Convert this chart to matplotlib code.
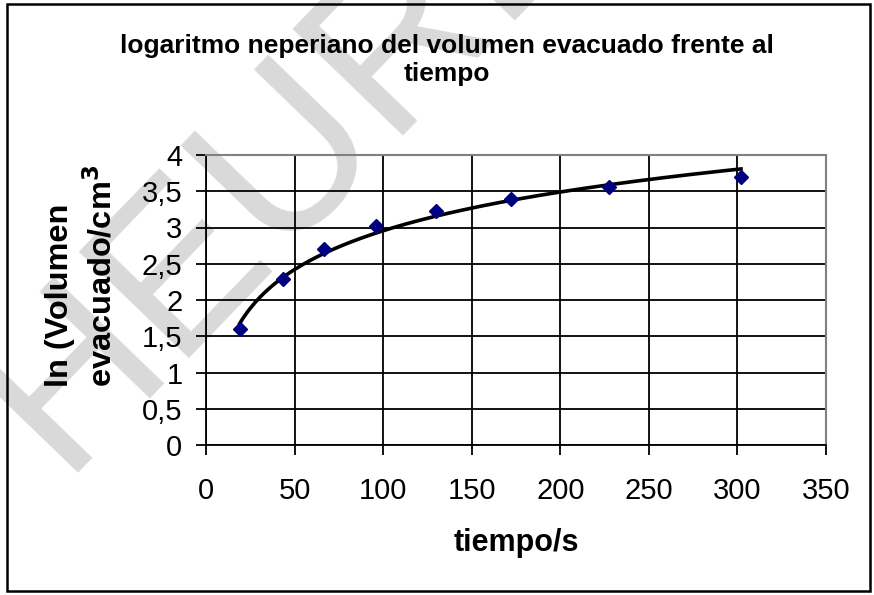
import numpy as np
import matplotlib
matplotlib.use("Agg")
import matplotlib.pyplot as plt
from matplotlib.patches import Rectangle

plt.rcParams["font.family"] = ["Liberation Sans", "DejaVu Sans"]

# data
tiempo = np.array([19, 43.5, 66.5, 96, 130, 172, 227.5, 302])
ln_volumen = np.array([1.60, 2.285, 2.70, 3.02, 3.23, 3.39, 3.555, 3.70])

x_ticks = [0, 50, 100, 150, 200, 250, 300, 350]
y_ticks = [0, 0.5, 1, 1.5, 2, 2.5, 3, 3.5, 4]
y_tick_labels = ["0", "0,5", "1", "1,5", "2", "2,5", "3", "3,5", "4"]

title = "logaritmo neperiano del volumen evacuado frente al\ntiempo"
x_label = "tiempo/s"
y_label = "ln (Volumen\nevacuado/cm$^\\mathbf{3}$"

# logarithmic trend line, fitted like the spreadsheet does
slope, intercept = np.polyfit(np.log(tiempo), ln_volumen, 1)
t_fit = np.linspace(tiempo.min(), tiempo.max(), 200)
y_fit = slope * np.log(t_fit) + intercept

fig = plt.figure(figsize=(8.74, 5.95), dpi=100)
ax = fig.add_axes([206 / 874, 1 - 445 / 595, 620 / 874, 290 / 595])
ax.set_facecolor("none")

# watermark behind the chart
fig.text(60 / 874, 1 - 473 / 595, "HEURE", fontsize=160, color="#d9d9d9",
         rotation=46, rotation_mode="anchor", ha="left", va="baseline", zorder=-5)

ax.plot(t_fit, y_fit, color="black", lw=2.6, zorder=3)
ax.plot(tiempo, ln_volumen, "D", color="#000080", ms=6.8, zorder=4, clip_on=False)

ax.set_xlim(0, 350)
ax.set_ylim(0, 4)
ax.set_xticks(x_ticks)
ax.set_yticks(y_ticks)
ax.set_yticklabels(y_tick_labels)
ax.tick_params(labelsize=21, length=7, width=1.3, color="black", direction="out")
ax.tick_params(axis="x", pad=16)
ax.tick_params(axis="y", pad=10)
ax.grid(True, color="black", lw=1.3, zorder=1)
ax.set_axisbelow(True)

for side in ["left", "bottom"]:
    ax.spines[side].set_color("black")
    ax.spines[side].set_linewidth(1.3)
for side in ["top", "right"]:
    ax.spines[side].set_color("#808080")
    ax.spines[side].set_linewidth(1.5)

ax.set_xlabel(x_label, fontsize=22, fontweight="bold")
ax.xaxis.set_label_coords(0.5, (445 - 543) / 290)
ax.xaxis.label.set_va("center")
ax.set_ylabel(y_label, fontsize=23.4, fontweight="bold", multialignment="left",
              linespacing=1.35)
ax.yaxis.set_label_coords((82 - 206) / 620, (445 - 276) / 290)
ax.yaxis.label.set_va("center")
fig.text(447 / 874, 1 - 60 / 595, title, fontsize=19.0, fontweight="bold",
         ha="center", va="center", linespacing=1.25)

fig.patches.append(Rectangle((7 / 874, 4 / 595), 863 / 874, 587 / 595,
                             transform=fig.transFigure, fill=False,
                             edgecolor="black", lw=1.8))

fig.savefig("out.png", dpi=100)
